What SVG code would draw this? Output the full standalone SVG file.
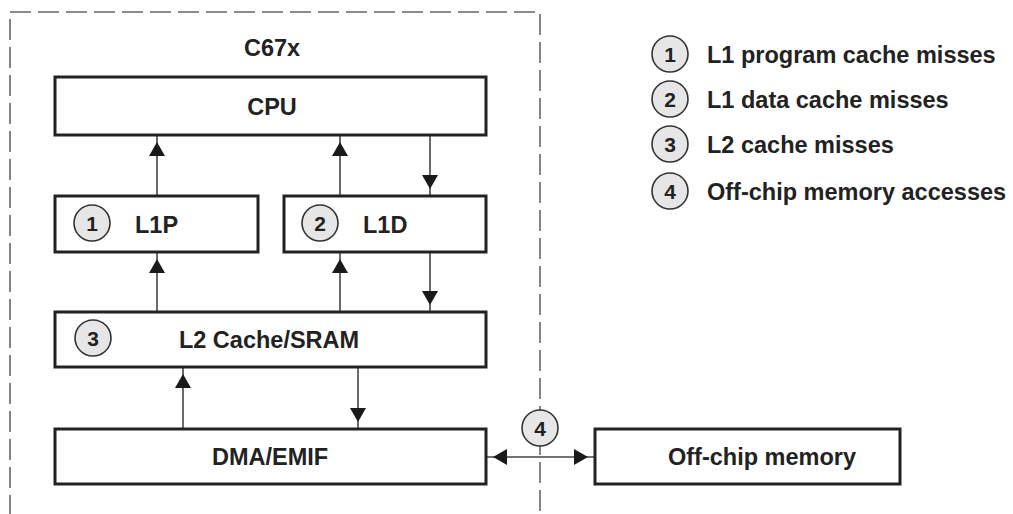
<svg xmlns="http://www.w3.org/2000/svg" width="1013" height="514" viewBox="0 0 1013 514">
<style>
  .box{fill:#fff;stroke:#222;stroke-width:3}
  .lbl{font-family:"Liberation Sans",Arial,sans-serif;font-weight:bold;font-size:23.5px;fill:#222}
  .leg{font-family:"Liberation Sans",Arial,sans-serif;font-weight:bold;font-size:23.5px;fill:#222}
  .num{font-family:"Liberation Sans",Arial,sans-serif;font-weight:bold;font-size:21px;fill:#222;text-anchor:middle}
  .circ{fill:#e6e6e6;stroke:#333;stroke-width:1.6}
  .ln{stroke:#444;stroke-width:1.6;fill:none}
  .ah{fill:#1a1a1a}
</style>
<defs>
  <path id="up" d="M0,0 L8,14 L-8,14 Z"/>
  <path id="down" d="M0,0 L8,-14 L-8,-14 Z"/>
</defs>
<rect id="chip" x="10" y="12" width="530" height="520" fill="none" stroke="#666" stroke-width="1.6" stroke-dasharray="21 7"/>
<text class="lbl" x="272" y="56" text-anchor="middle">C67x</text>

<g id="connectors">
  <line class="ln" x1="157" y1="135" x2="157" y2="196"/>
  <line class="ln" x1="340" y1="135" x2="340" y2="196"/>
  <line class="ln" x1="430" y1="135" x2="430" y2="196"/>
  <line class="ln" x1="157" y1="252" x2="157" y2="312"/>
  <line class="ln" x1="340" y1="252" x2="340" y2="312"/>
  <line class="ln" x1="430" y1="252" x2="430" y2="312"/>
  <line class="ln" x1="183" y1="367" x2="183" y2="429"/>
  <line class="ln" x1="358" y1="367" x2="358" y2="429"/>
  <line class="ln" x1="486" y1="457" x2="595" y2="457"/>
  <use href="#up" class="ah" x="157" y="142"/>
  <use href="#up" class="ah" x="340" y="142"/>
  <use href="#down" class="ah" x="430" y="189"/>
  <use href="#up" class="ah" x="157" y="259"/>
  <use href="#up" class="ah" x="340" y="259"/>
  <use href="#down" class="ah" x="430" y="305"/>
  <use href="#up" class="ah" x="183" y="374"/>
  <use href="#down" class="ah" x="358" y="422"/>
  <path class="ah" d="M493,457 L507,449 L507,465 Z"/>
  <path class="ah" d="M588,457 L574,449 L574,465 Z"/>
</g>

<g id="cpu">
  <rect class="box" x="55" y="77" width="431" height="58"/>
  <text class="lbl" x="272" y="114.5" text-anchor="middle">CPU</text>
</g>
<g id="l1p">
  <rect class="box" x="55" y="196" width="203" height="56"/>
  <circle class="circ" cx="92" cy="223" r="18"/>
  <text class="num" x="92" y="230.5">1</text>
  <text class="lbl" x="135" y="232.5">L1P</text>
</g>
<g id="l1d">
  <rect class="box" x="284" y="196" width="202" height="56"/>
  <circle class="circ" cx="320" cy="223" r="18"/>
  <text class="num" x="320" y="230.5">2</text>
  <text class="lbl" x="363" y="232.5">L1D</text>
</g>
<g id="l2">
  <rect class="box" x="55" y="312" width="431" height="55"/>
  <circle class="circ" cx="93" cy="338" r="18"/>
  <text class="num" x="93" y="345.5">3</text>
  <text class="lbl" x="269" y="348" text-anchor="middle">L2 Cache/SRAM</text>
</g>
<g id="dma">
  <rect class="box" x="55" y="429" width="431" height="55"/>
  <text class="lbl" x="270" y="465" text-anchor="middle">DMA/EMIF</text>
</g>
<g id="offchip">
  <rect class="box" x="595" y="429" width="305" height="55"/>
  <text class="lbl" x="762" y="465" text-anchor="middle">Off-chip memory</text>
</g>
<g id="badge4">
  <circle class="circ" cx="540" cy="428" r="18"/>
  <text class="num" x="540" y="435.5">4</text>
</g>

<g id="legend">
  <circle class="circ" cx="670" cy="54" r="18"/>
  <text class="num" x="670" y="61.5">1</text>
  <text class="leg" x="707" y="62.5">L1 program cache misses</text>
  <circle class="circ" cx="670" cy="99" r="18"/>
  <text class="num" x="670" y="106.5">2</text>
  <text class="leg" x="707" y="107.5">L1 data cache misses</text>
  <circle class="circ" cx="670" cy="144" r="18"/>
  <text class="num" x="670" y="151.5">3</text>
  <text class="leg" x="707" y="152.5">L2 cache misses</text>
  <circle class="circ" cx="670" cy="191" r="18"/>
  <text class="num" x="670" y="198.5">4</text>
  <text class="leg" x="707" y="199.5">Off-chip memory accesses</text>
</g>
</svg>
